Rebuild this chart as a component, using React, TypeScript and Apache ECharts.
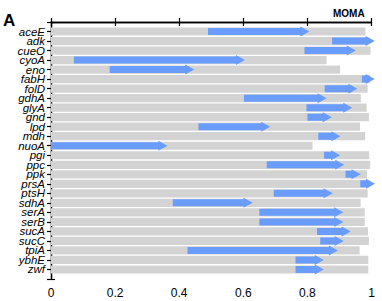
import React, { useEffect, useRef } from "react";
import * as echarts from "echarts";

const genes = ["aceE","adk","cueO","cyoA","eno","fabH","folD","gdhA","glyA","gnd","lpd","mdh","nuoA","pgi","ppc","ppk","prsA","ptsH","sdhA","serA","serB","sucA","sucC","tpiA","ybhE","zwf"];
const grayEnd = [0.981,0.99,0.997,0.86,0.902,0.995,0.988,0.967,0.985,0.992,0.964,0.98,0.816,0.993,0.996,0.986,0.99,0.988,0.966,0.979,0.979,0.989,0.992,0.963,0.99,0.99];
const arrowStart = [0.49,0.877,0.791,0.0715,0.183,0.97,0.854,0.602,0.797,0.8,0.46,0.834,0,0.852,0.673,0.919,0.965,0.695,0.38,0.65,0.65,0.83,0.84,0.426,0.763,0.763];
const arrowEnd = [0.806,1.01,0.951,0.605,0.447,1.01,0.956,0.86,0.94,0.876,0.684,0.903,0.363,0.902,0.915,0.966,1.011,0.879,0.629,0.912,0.912,0.935,0.913,0.895,0.851,0.851];
const xTicks = [0, 0.2, 0.4, 0.6, 0.8, 1];

export default function App() {
  const ref = useRef<HTMLDivElement>(null);
  useEffect(() => {
    if (!ref.current) return;
    const chart = echarts.init(ref.current, null, { renderer: "svg" });
    const grayData = genes.map((g, i) => [grayEnd[i], i + 1]);
    const arrowData = genes.map((g, i) => [arrowStart[i], arrowEnd[i], i + 1]);
    const axisCommon = {
      axisLine: { show: true, lineStyle: { color: "#000", width: 1.3 } },
      axisTick: { show: true, inside: true, length: 4, lineStyle: { color: "#000", width: 1.2 } },
      splitLine: { show: false },
    };
    chart.setOption({
      animation: false,
      grid: { left: 51, right: 10.5, top: 22, bottom: 22, containLabel: false },
      graphic: [
        { type: "text", left: 3, top: 12, style: { text: "A", font: "bold 17px 'Liberation Sans', Arial, sans-serif", fill: "#000" } },
        { type: "text", left: 333, top: 8, style: { text: "MOMA", font: "bold 10px 'Liberation Sans', Arial, sans-serif", fill: "#000" } },
      ],
      xAxis: [
        {
          type: "value", min: 0, max: 1, interval: 0.2, position: "bottom",
          ...axisCommon,
          axisLabel: {
            show: true, margin: 8, color: "#000", fontSize: 12,
            fontFamily: "'Liberation Sans', Arial, sans-serif",
            formatter: (v: number) => {
              const t = xTicks.find((x) => Math.abs(x - v) < 1e-6);
              return t === undefined ? "" : String(t);
            },
          },
        },
        {
          type: "value", min: 0, max: 1, interval: 0.2, position: "top",
          ...axisCommon,
          axisLabel: { show: false },
        },
      ],
      yAxis: [
        {
          type: "value", min: 0, max: 27, interval: 1, inverse: true, position: "left",
          ...axisCommon,
          axisLabel: {
            show: true, margin: 6, color: "#000", fontSize: 11.5, fontStyle: "italic", lineHeight: 9,
            fontFamily: "'Liberation Sans', Arial, sans-serif",
            formatter: (v: number) => genes[Math.round(v) - 1] ?? "",
          },
        },
        {
          type: "value", min: 0, max: 27, interval: 1, inverse: true, position: "right",
          ...axisCommon,
          axisLabel: { show: false },
        },
      ],
      series: [
        {
          type: "custom",
          xAxisIndex: 0, yAxisIndex: 0,
          clip: false,
          data: grayData,
          renderItem: (params: any, api: any) => {
            const x1 = api.value(0);
            const row = api.value(1);
            const p0 = api.coord([0, row]);
            const p1 = api.coord([x1, row]);
            const h = 8.2;
            return {
              type: "rect",
              shape: { x: p0[0], y: p0[1] - h / 2, width: p1[0] - p0[0], height: h },
              style: { fill: "#d3d3d3" },
            };
          },
        },
        {
          type: "custom",
          xAxisIndex: 0, yAxisIndex: 0,
          clip: false,
          z: 3,
          data: arrowData,
          renderItem: (params: any, api: any) => {
            const s = api.value(0);
            const e = api.value(1);
            const row = api.value(2);
            const p0 = api.coord([s, row]);
            const p1 = api.coord([e, row]);
            const y = p0[1];
            const x0 = p0[0];
            const x1 = p1[0];
            const headL = Math.min(9, x1 - x0);
            const hs = 3.5;
            const hh = 5;
            const xb = x1 - headL;
            return {
              type: "polygon",
              shape: {
                points: [
                  [x0, y - hs], [xb, y - hs], [xb, y - hh], [x1, y],
                  [xb, y + hh], [xb, y + hs], [x0, y + hs],
                ],
              },
              style: { fill: "#6a9cfb" },
            };
          },
        },
      ],
    });
    return () => chart.dispose();
  }, []);
  return <div ref={ref} style={{ width: 382, height: 301, position: "absolute", left: 0, top: 0 }} />;
}
